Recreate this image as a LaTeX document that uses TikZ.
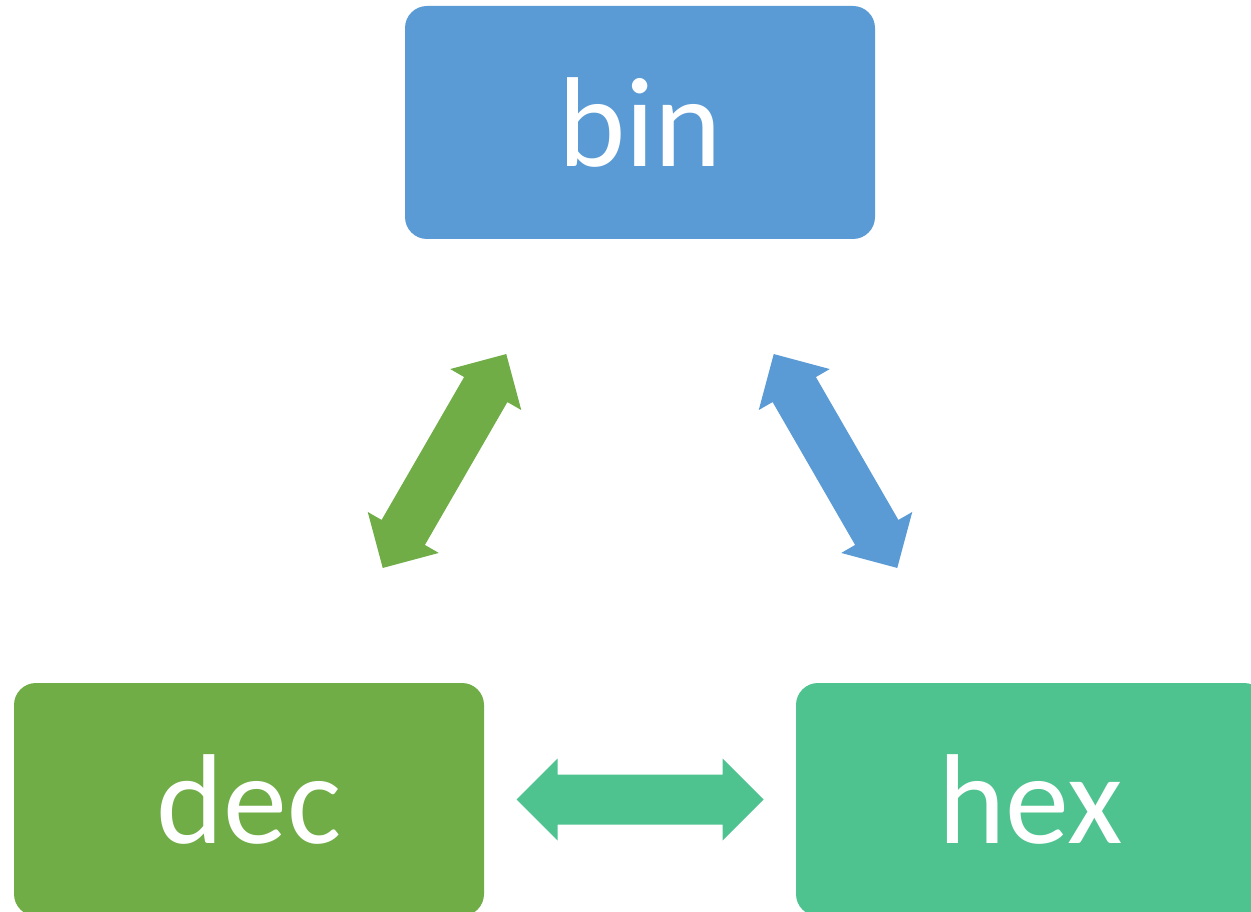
\documentclass[tikz,border=0pt]{standalone}
\usepackage{fontspec}
\setmainfont{Carlito}
\usetikzlibrary{calc}
\definecolor{binblue}{HTML}{5B9BD5}
\definecolor{decgreen}{HTML}{70AD47}
\definecolor{hexgreen}{HTML}{4EC38F}
\tikzset{
  numbox/.style={rectangle, rounded corners=22pt, minimum width=470pt,
    minimum height=233pt, inner sep=0pt, text=white,
    font=\fontsize{128}{128}\selectfont},
  % block arrow with a head at both ends, 90 degree tips
  dblarrow/.pic={
    \fill[#1] (-123.5,0) -- (-82.5,41) -- (-82.5,25) -- (82.5,25) -- (82.5,41)
      -- (123.5,0) -- (82.5,-41) -- (82.5,-25) -- (-82.5,-25) -- (-82.5,-41) -- cycle;
  }
}
\begin{document}
\begin{tikzpicture}[x=1pt,y=-1pt]
\useasboundingbox (0,0) rectangle (1251,912);
\clip (0,0) rectangle (1251,912);
\node[numbox, fill=binblue] (bin) at (640,122.5) {bin};
\node[numbox, fill=decgreen] (dec) at (249,799.5) {dec};
\node[numbox, fill=hexgreen] (hex) at (1031,799.5) {hex};
\pic[rotate=60] at ($(bin)!0.5!(dec)$) {dblarrow=decgreen};
\pic[rotate=120] at ($(bin)!0.5!(hex)$) {dblarrow=binblue};
\pic at ($(dec)!0.5!(hex)$) {dblarrow=hexgreen};
\end{tikzpicture}
\end{document}
